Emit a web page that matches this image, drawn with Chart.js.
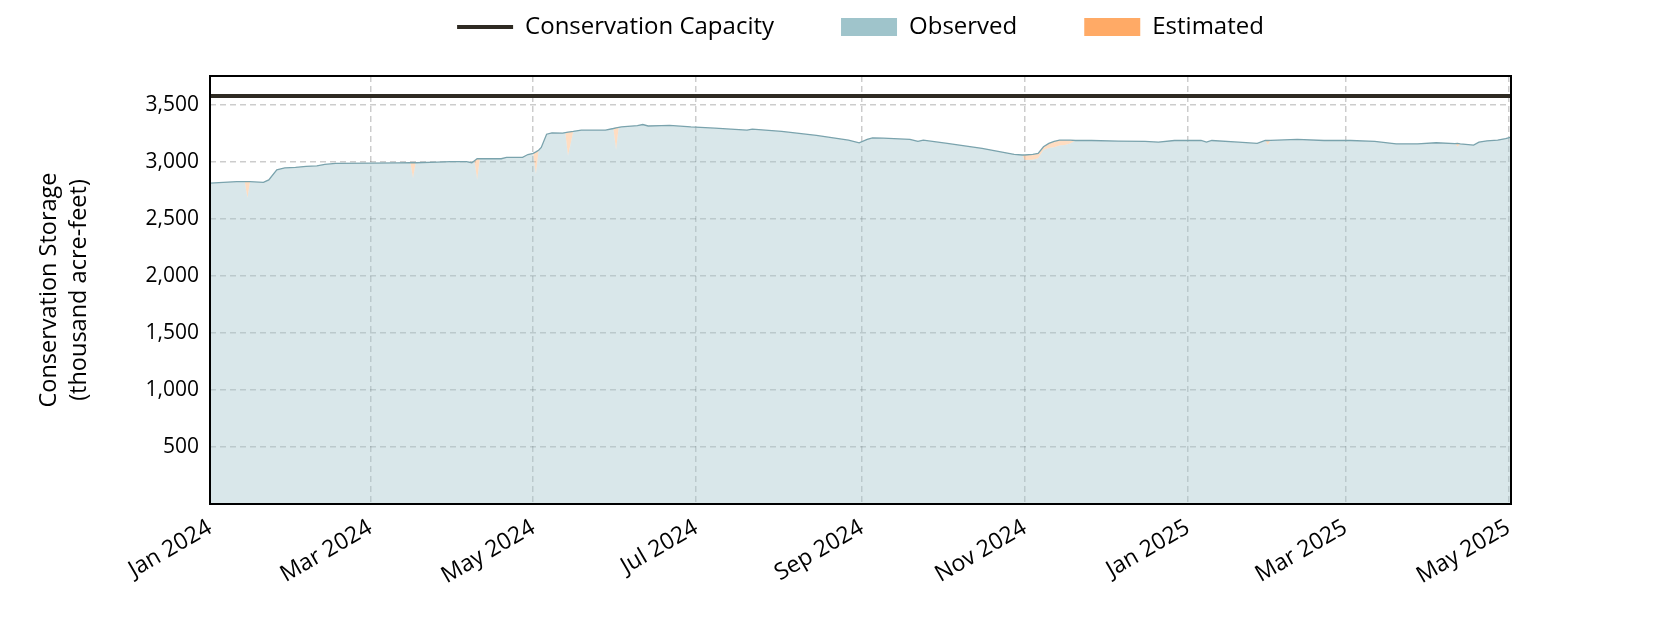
<!DOCTYPE html>
<html>
<head>
<meta charset="utf-8">
<style>
  html, body { margin: 0; padding: 0; background: #fff; }
  #wrap { width: 1680px; height: 630px; }
</style>
</head>
<body>
<div id="wrap">
  <canvas id="storageChart" width="1680" height="630"></canvas>
</div>

<script src="https://cdn.jsdelivr.net/npm/chart.js"></script>

<script>
  // days since Jan 1 2024
  const dayOffsets = [
    0, 5, 10, 13, 14, 15, 20, 22, 25, 28, 32, 36, 40, 43, 47, 60, 70, 75, 76, 77,
    85, 90, 96, 98, 99, 100, 101, 109, 111, 117, 119, 121, 122, 123, 124, 126, 128, 132, 133, 134,
    136, 139, 148, 151, 152, 153, 154, 160, 162, 164, 169, 172, 180, 189, 198, 201, 203, 214, 227, 239,
    243, 246, 248, 252, 262, 265, 267, 276, 289, 301, 304, 305, 308, 310, 312, 314, 316, 318, 320, 322,
    324, 330, 340, 350, 355, 361, 371, 373, 375, 385, 392, 395, 396, 397, 407, 417, 427, 436, 444, 452,
    459, 466, 467, 468, 473, 475, 478, 482, 485, 487
  ];

  // total storage incl. estimated days (thousand acre-feet)
  const totalStorage = [
    2811, 2818, 2825, 2825, 2825, 2824, 2818, 2840, 2927, 2945, 2950, 2958, 2962, 2975, 2985, 2987, 2989, 2990, 2990, 2990,
    2996, 3000, 3000, 2990, 3008, 3025, 3025, 3025, 3037, 3037, 3062, 3072, 3085, 3100, 3124, 3240, 3252, 3250, 3254, 3258,
    3264, 3275, 3275, 3290, 3296, 3300, 3304, 3316, 3325, 3312, 3316, 3318, 3304, 3293, 3281, 3275, 3285, 3264, 3229, 3188,
    3165, 3195, 3208, 3206, 3194, 3177, 3188, 3159, 3116, 3063, 3058, 3058, 3064, 3072, 3130, 3160, 3178, 3188, 3188, 3188,
    3185, 3185, 3180, 3178, 3171, 3185, 3185, 3171, 3185, 3170, 3159, 3185, 3185, 3186, 3194, 3185, 3185, 3177, 3156, 3156,
    3165, 3158, 3159, 3156, 3145, 3171, 3182, 3188, 3202, 3214
  ];

  // observed-only storage (lower where a day was estimated)
  const observedStorage = [
    2811, 2818, 2825, 2825, 2683, 2824, 2818, 2840, 2927, 2945, 2950, 2958, 2962, 2975, 2985, 2987, 2989, 2990, 2854, 2990,
    2996, 3000, 3000, 2990, 3008, 2840, 3025, 3025, 3037, 3037, 3062, 3072, 2890, 3100, 3124, 3240, 3252, 3250, 3254, 3052,
    3264, 3275, 3275, 3290, 3101, 3300, 3304, 3316, 3325, 3312, 3316, 3318, 3304, 3293, 3281, 3275, 3285, 3264, 3229, 3188,
    3165, 3195, 3208, 3206, 3194, 3177, 3188, 3159, 3116, 3063, 3058, 3014, 3016, 3029, 3101, 3120, 3126, 3140, 3145, 3159,
    3185, 3185, 3180, 3178, 3171, 3185, 3185, 3171, 3185, 3170, 3159, 3185, 3145, 3186, 3194, 3185, 3185, 3177, 3156, 3156,
    3165, 3158, 3130, 3156, 3145, 3171, 3182, 3188, 3202, 3214
  ];

  const conservationCapacity = 3575;

  const monthTicks = [0, 60, 121, 182, 244, 305, 366, 425, 486];
  const monthLabels = ['Jan 2024', 'Mar 2024', 'May 2024', 'Jul 2024', 'Sep 2024', 'Nov 2024', 'Jan 2025', 'Mar 2025', 'May 2025'];
  const storageTicks = [500, 1000, 1500, 2000, 2500, 3000, 3500];

  const toPoints = (ys) => dayOffsets.map((d, i) => ({ x: d, y: ys[i] }));

  Chart.defaults.font.family = "'Open Sans', sans-serif";
  Chart.defaults.color = '#000';

  // draws the black box round the plot area
  const frame = {
    id: 'frame',
    afterDraw(chart) {
      const a = chart.chartArea;
      const c = chart.ctx;
      c.save();
      c.strokeStyle = '#000';
      c.lineWidth = 2;
      c.strokeRect(a.left, a.top, a.right - a.left, a.bottom - a.top);
      c.restore();
    }
  };

  // pin the legend band height so the plot top lands where it should
  const legendHeight = {
    id: 'legendHeight',
    beforeLayout(chart) {
      const lg = chart.legend;
      if (lg && !lg._pinned) {
        const origFit = Object.getPrototypeOf(lg).fit;
        lg.fit = function () {
          origFit.call(this);
          this.height = 128;
        };
        lg._pinned = true;
      }
    }
  };

  const ctx = document.getElementById('storageChart');
  new Chart(ctx, {
    type: 'line',
    data: {
      datasets: [
        {
          label: 'top',
          data: toPoints(totalStorage),
          borderColor: '#7aa3ad',
          borderWidth: 1.3,
          pointRadius: 0,
          fill: false
        },
        {
          label: 'Conservation Capacity',
          data: [{ x: 0, y: conservationCapacity }, { x: 487, y: conservationCapacity }],
          borderColor: '#2e2a22',
          borderWidth: 4,
          pointRadius: 0,
          fill: false
        },
        {
          label: 'Observed',
          data: toPoints(observedStorage),
          borderWidth: 0,
          pointRadius: 0,
          backgroundColor: 'rgba(159, 196, 203, 0.4)',
          fill: 'origin'
        },
        {
          label: 'Estimated',
          data: toPoints(totalStorage),
          borderWidth: 0,
          pointRadius: 0,
          backgroundColor: 'rgba(255, 170, 102, 0.4)',
          fill: 2
        }
      ]
    },
    options: {
      responsive: false,
      animation: false,
      layout: { padding: { top: -52, left: 0, right: 169, bottom: 0 } },
      plugins: {
        tooltip: { enabled: false },
        legend: {
          position: 'top',
          fullSize: false,
          labels: {
            font: { size: 24 },
            usePointStyle: true,
            pointStyleWidth: 56,
            boxHeight: 18,
            padding: 67,
            filter: (item) => item.text !== 'top',
            generateLabels: (chart) => {
              const items = Chart.defaults.plugins.legend.labels.generateLabels(chart);
              items.forEach((it) => {
                if (it.text === 'Conservation Capacity') {
                  it.pointStyle = 'line';
                  it.strokeStyle = '#2e2a22';
                  it.lineWidth = 4;
                } else if (it.text === 'Observed') {
                  it.pointStyle = 'rect';
                  it.fillStyle = '#9fc4cb';
                  it.lineWidth = 0;
                } else if (it.text === 'Estimated') {
                  it.pointStyle = 'rect';
                  it.fillStyle = '#ffaa66';
                  it.lineWidth = 0;
                }
              });
              return items;
            }
          }
        }
      },
      scales: {
        x: {
          type: 'linear',
          min: 0,
          max: 487,
          afterFit: (scale) => { scale.height = 126; },
          afterBuildTicks: (scale) => { scale.ticks = monthTicks.map((v) => ({ value: v })); },
          grid: { color: 'rgba(0,0,0,0.2)', lineWidth: 1.5, drawTicks: false },
          border: { display: false, dash: [6, 4] },
          ticks: {
            autoSkip: false,
            maxRotation: 30,
            minRotation: 30,
            padding: 10,
            font: { size: 23 },
            callback: (v) => monthLabels[monthTicks.indexOf(v)]
          }
        },
        y: {
          min: 0,
          max: 3750,
          afterFit: (scale) => { scale.width = 210; },
          afterBuildTicks: (scale) => { scale.ticks = storageTicks.map((v) => ({ value: v })); },
          grid: { color: 'rgba(0,0,0,0.2)', lineWidth: 1.5, drawTicks: false },
          border: { display: false, dash: [6, 4] },
          ticks: {
            padding: 11,
            font: { size: 21 },
            callback: (v) => v.toLocaleString('en-US')
          },
          title: {
            display: true,
            text: ['Conservation Storage', '(thousand acre-feet)'],
            font: { size: 23.5, lineHeight: '30px' },
            padding: { top: 34, bottom: 0 }
          }
        }
      }
    },
    plugins: [frame, legendHeight]
  });
</script>
</body>
</html>
